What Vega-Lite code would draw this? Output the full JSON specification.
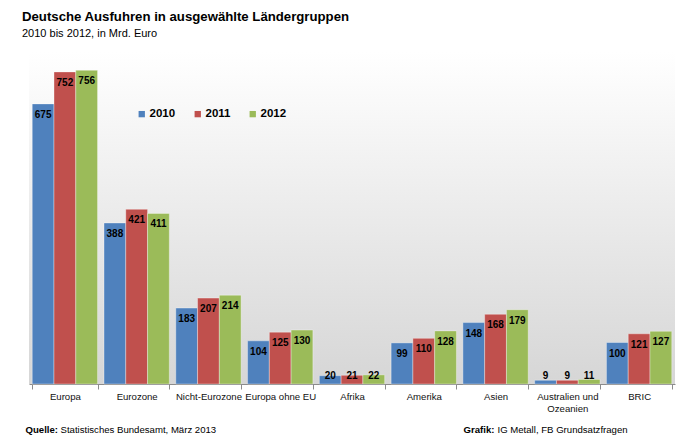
{
  "$schema": "https://vega.github.io/schema/vega-lite/v6.json",
  "width": 646,
  "height": 332,
  "autosize": {"type": "none"},
  "padding": {"left": 29, "top": 52, "right": 5, "bottom": 53},
  "background": "white",
  "config": {"font": "Liberation Sans", "view": {"stroke": null}},
  "title": {
    "text": "Deutsche Ausfuhren in ausgewählte Ländergruppen",
    "subtitle": "2010 bis 2012, in Mrd. Euro",
    "anchor": "start",
    "frame": "group",
    "dx": -7,
    "fontSize": 13.2,
    "fontWeight": "bold",
    "color": "#000000",
    "subtitleFontSize": 11,
    "subtitleColor": "#000000",
    "subtitlePadding": 4,
    "offset": 12
  },
  "data": {
    "values": [
      {"region": "Europa", "year": "2010", "v": 675},
      {"region": "Europa", "year": "2011", "v": 752},
      {"region": "Europa", "year": "2012", "v": 756},
      {"region": "Eurozone", "year": "2010", "v": 388},
      {"region": "Eurozone", "year": "2011", "v": 421},
      {"region": "Eurozone", "year": "2012", "v": 411},
      {"region": "Nicht-Eurozone", "year": "2010", "v": 183},
      {"region": "Nicht-Eurozone", "year": "2011", "v": 207},
      {"region": "Nicht-Eurozone", "year": "2012", "v": 214},
      {"region": "Europa ohne EU", "year": "2010", "v": 104},
      {"region": "Europa ohne EU", "year": "2011", "v": 125},
      {"region": "Europa ohne EU", "year": "2012", "v": 130},
      {"region": "Afrika", "year": "2010", "v": 20},
      {"region": "Afrika", "year": "2011", "v": 21},
      {"region": "Afrika", "year": "2012", "v": 22},
      {"region": "Amerika", "year": "2010", "v": 99},
      {"region": "Amerika", "year": "2011", "v": 110},
      {"region": "Amerika", "year": "2012", "v": 128},
      {"region": "Asien", "year": "2010", "v": 148},
      {"region": "Asien", "year": "2011", "v": 168},
      {"region": "Asien", "year": "2012", "v": 179},
      {"region": "Australien und Ozeanien", "year": "2010", "v": 9},
      {"region": "Australien und Ozeanien", "year": "2011", "v": 9},
      {"region": "Australien und Ozeanien", "year": "2012", "v": 11},
      {"region": "BRIC", "year": "2010", "v": 100},
      {"region": "BRIC", "year": "2011", "v": 121},
      {"region": "BRIC", "year": "2012", "v": 127}
    ]
  },
  "layer": [
    {
      "data": {"values": [{"bg": 1}]},
      "mark": {
        "type": "rect",
        "fill": {
          "gradient": "linear",
          "x1": 0, "y1": 0, "x2": 0, "y2": 1,
          "stops": [
            {"offset": 0, "color": "#ffffff"},
            {"offset": 1, "color": "#d6d6d6"}
          ]
        }
      },
      "encoding": {
        "y": {
          "datum": 800,
          "type": "quantitative",
          "scale": {"domain": [0, 800]},
          "axis": {
            "orient": "left",
            "title": "Statistisches Bundesamt, März 2013",
            "titleAngle": 0,
            "titleX": 31,
            "titleY": 380,
            "titleAlign": "left",
            "titleBaseline": "alphabetic",
            "titleFontWeight": "normal",
            "titleFontSize": 9.6,
            "titleColor": "#000000",
            "labels": false,
            "ticks": false,
            "domain": false,
            "grid": false
          }
        },
        "y2": {"datum": 0}
      }
    },
    {
      "mark": {"type": "bar", "stroke": "#ffffff", "strokeOpacity": 0.35, "strokeWidth": 1},
      "encoding": {
        "x": {
          "field": "region",
          "type": "nominal",
          "sort": null,
          "scale": {"paddingInner": 0.09, "paddingOuter": 0.045},
          "axis": {
            "orient": "bottom",
            "title": "Quelle:",
            "titleFontWeight": "bold",
            "titleFontSize": 9.6,
            "titleColor": "#000000",
            "titleX": -4,
            "titleY": 48,
            "titleAlign": "left",
            "titleBaseline": "alphabetic",
            "labelAngle": 0,
            "labelFontSize": 9.6,
            "labelColor": "#111111",
            "labelPadding": 2,
            "labelOverlap": false,
            "labelBound": false,
            "labelLineHeight": 12,
            "labelExpr": "datum.label == 'Australien und Ozeanien' ? ['Australien und', 'Ozeanien'] : datum.label",
            "tickSize": 5,
            "tickBand": "extent",
            "domainColor": "#8c8c8c",
            "tickColor": "#8c8c8c",
            "grid": false
          }
        },
        "xOffset": {"field": "year", "type": "nominal"},
        "y": {
          "field": "v",
          "type": "quantitative",
          "axis": {
            "orient": "right",
            "title": "IG Metall, FB Grundsatzfragen",
            "titleAngle": 0,
            "titleX": -178,
            "titleY": 380,
            "titleAlign": "left",
            "titleBaseline": "alphabetic",
            "titleFontWeight": "normal",
            "titleFontSize": 9.6,
            "titleColor": "#000000",
            "labels": false,
            "ticks": false,
            "domain": false,
            "grid": false
          }
        },
        "color": {
          "field": "year",
          "type": "nominal",
          "scale": {"domain": ["2010", "2011", "2012"], "range": ["#4f81bd", "#c0504d", "#9bbb59"]},
          "legend": {
            "orient": "none",
            "legendX": 107,
            "legendY": 56,
            "direction": "horizontal",
            "title": null,
            "symbolType": "square",
            "symbolSize": 40,
            "symbolStrokeWidth": 0,
            "labelFontSize": 11.5,
            "labelFontWeight": "bold",
            "labelColor": "#000000",
            "labelOffset": 2,
            "columnPadding": 16,
            "padding": 0
          }
        }
      }
    },
    {
      "transform": [{"filter": "datum.v >= 50"}],
      "mark": {"type": "text", "dy": 11, "fontSize": 10, "fontWeight": "bold", "color": "#000000", "baseline": "middle"},
      "encoding": {
        "x": {
          "field": "region",
          "type": "nominal",
          "sort": null,
          "axis": {
            "orient": "top",
            "title": "Grafik:",
            "titleFontWeight": "bold",
            "titleFontSize": 9.6,
            "titleColor": "#000000",
            "titleX": 434,
            "titleY": 380,
            "titleAlign": "left",
            "titleBaseline": "alphabetic",
            "labels": false,
            "ticks": false,
            "domain": false,
            "grid": false
          }
        },
        "xOffset": {"field": "year", "type": "nominal"},
        "y": {"field": "v", "type": "quantitative", "axis": null},
        "text": {"field": "v", "type": "quantitative"}
      }
    },
    {
      "transform": [{"filter": "datum.v < 50"}],
      "mark": {"type": "text", "dy": -8, "fontSize": 10, "fontWeight": "bold", "color": "#000000", "baseline": "middle"},
      "encoding": {
        "x": {"field": "region", "type": "nominal", "sort": null, "axis": null},
        "xOffset": {"field": "year", "type": "nominal"},
        "y": {"datum": 0, "type": "quantitative", "axis": null},
        "text": {"field": "v", "type": "quantitative"}
      }
    }
  ],
  "resolve": {"axis": {"x": "independent", "y": "independent"}}
}
